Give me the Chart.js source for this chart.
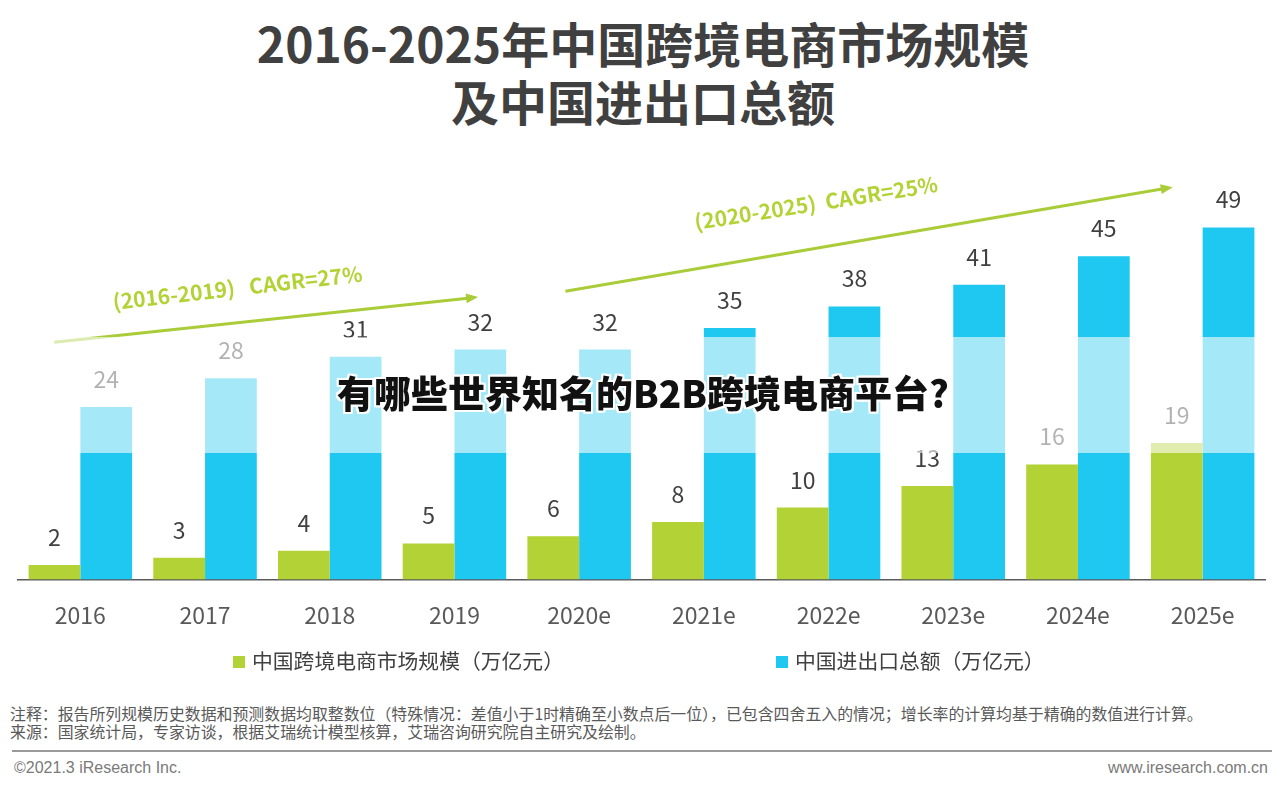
<!DOCTYPE html>
<html lang="zh-CN">
<head>
    <meta charset="UTF-8">
    <title>2016-2025年中国跨境电商市场规模及中国进出口总额</title>
    <script src="https://cdn.jsdelivr.net/npm/chart.js"></script>
    <style>
        body { margin: 0; width: 1280px; height: 791px; background: #fff; position: relative; overflow: hidden;
               font-family: "Noto Sans CJK SC", "Noto Sans", sans-serif; }
        .title { position: absolute; left: 0; width: 1286px; text-align: center; font-weight: 700;
                 font-size: 48px; color: #404040; line-height: 1; }
        #chartBox { position: absolute; left: 0; top: 0; width: 1280px; height: 662px; }
        #band { position: absolute; left: 0; top: 337px; width: 1280px; height: 116px; background: rgba(255,255,255,0.6); }
        #question { position: absolute; left: 0; width: 1286px; top: 372px; text-align: center; font-size: 37px;
                    font-weight: 900; color: #111; line-height: 1.1;
                    text-shadow: 2px 0 #fff, -2px 0 #fff, 0 2px #fff, 0 -2px #fff, 2px 2px #fff, -2px -2px #fff, 2px -2px #fff, -2px 2px #fff; }
        #legend { position: absolute; top: 647px; left: 0; width: 1280px; height: 26px; }
        .lg { position: absolute; top: 0; font-size: 20.8px; color: #404040; line-height: 26px; white-space: nowrap; }
        .lg i { display: inline-block; width: 12px; height: 12px; margin-right: 7px; vertical-align: 1px; }
        .note { position: absolute; left: 10px; font-size: 15.9px; color: #595959; white-space: nowrap; line-height: 1; }
        #rule { position: absolute; left: 12px; top: 750px; width: 1260px; height: 2px; background: #9a9a9a; }
        .foot { position: absolute; top: 759px; font-size: 16px; color: #7a7a7a; font-family: "Liberation Sans", Arial, sans-serif; }
    </style>
</head>
<body>
    <div class="title" style="top:18px">2016-2025年中国跨境电商市场规模</div>
    <div class="title" style="top:76px">及中国进出口总额</div>

    <div id="chartBox"><canvas id="barChart"></canvas></div>
    <div id="band"></div>
    <div id="question">有哪些世界知名的B2B跨境电商平台?</div>

    <div id="legend"></div>

    <div class="note" style="top:706px">注释：报告所列规模历史数据和预测数据均取整数位（特殊情况：差值小于1时精确至小数点后一位），已包含四舍五入的情况；增长率的计算均基于精确的数值进行计算。</div>
    <div class="note" style="top:724px">来源：国家统计局，专家访谈，根据艾瑞统计模型核算，艾瑞咨询研究院自主研究及绘制。</div>
    <div id="rule"></div>
    <div class="foot" style="left:14px">©2021.3 iResearch Inc.</div>
    <div class="foot" style="right:12px">www.iresearch.com.cn</div>

    <script>
        // categories and values (万亿元)
        var years = ['2016', '2017', '2018', '2019', '2020e', '2021e', '2022e', '2023e', '2024e', '2025e'];
        var ecommerce = [2, 3, 4, 5, 6, 8, 10, 13, 16, 19];
        var tradeTotal = [24, 28, 31, 32, 32, 35, 38, 41, 45, 49];
        var seriesNames = ['中国跨境电商市场规模（万亿元）', '中国进出口总额（万亿元）'];
        var seriesColors = ['#B2D235', '#1FC8F0'];

        // growth annotations: [startIndex, startValue, endIndex, endValue], text at [index, value, angle]
        var cagrNotes = [
            { text: '(2016-2019)   CAGR=27%', from: [-0.21, 33], to: [3.19, 39.3], at: [1.26, 40.6], angle: -6.5 },
            { text: '(2020-2025)  CAGR=25%', from: [3.89, 40.1], to: [8.76, 54.6], at: [5.9, 52.4], angle: -9 }
        ];

        // values on top of the bars
        var valueLabels = {
            id: 'valueLabels',
            afterDatasetsDraw: function (chart) {
                var ctx = chart.ctx;
                ctx.save();
                ctx.font = '23px "Noto Sans CJK SC", sans-serif';
                ctx.fillStyle = '#404040';
                ctx.textAlign = 'center';
                ctx.textBaseline = 'alphabetic';
                chart.data.datasets.forEach(function (ds, i) {
                    chart.getDatasetMeta(i).data.forEach(function (bar, j) {
                        ctx.fillText(ds.data[j], bar.x, bar.y - 19);
                    });
                });
                ctx.restore();
            }
        };

        // CAGR arrows
        var cagrArrows = {
            id: 'cagrArrows',
            afterDraw: function (chart) {
                var ctx = chart.ctx;
                var xs = chart.scales.x, ys = chart.scales.y;
                ctx.save();
                cagrNotes.forEach(function (n) {
                    var x1 = xs.getPixelForValue(n.from[0]), y1 = ys.getPixelForValue(n.from[1]);
                    var x2 = xs.getPixelForValue(n.to[0]), y2 = ys.getPixelForValue(n.to[1]);
                    var a = Math.atan2(y2 - y1, x2 - x1);
                    ctx.strokeStyle = '#A9CC38';
                    ctx.fillStyle = '#A9CC38';
                    ctx.lineWidth = 3;
                    ctx.beginPath();
                    ctx.moveTo(x1, y1);
                    ctx.lineTo(x2 - 8 * Math.cos(a), y2 - 8 * Math.sin(a));
                    ctx.stroke();
                    ctx.beginPath();
                    ctx.moveTo(x2, y2);
                    ctx.lineTo(x2 - 12 * Math.cos(a) + 5 * Math.sin(a), y2 - 12 * Math.sin(a) - 5 * Math.cos(a));
                    ctx.lineTo(x2 - 12 * Math.cos(a) - 5 * Math.sin(a), y2 - 12 * Math.sin(a) + 5 * Math.cos(a));
                    ctx.closePath();
                    ctx.fill();

                    var tx = xs.getPixelForValue(n.at[0]), ty = ys.getPixelForValue(n.at[1]);
                    ctx.save();
                    ctx.translate(tx, ty);
                    ctx.rotate(n.angle * Math.PI / 180);
                    ctx.font = '600 21px "Noto Sans CJK SC", sans-serif';
                    ctx.fillStyle = '#B2D235';
                    ctx.textAlign = 'center';
                    ctx.textBaseline = 'middle';
                    ctx.fillText(n.text, 0, 0);
                    ctx.restore();
                });
                ctx.restore();
            }
        };

        var ctx = document.getElementById('barChart').getContext('2d');
        var barChart = new Chart(ctx, {
            type: 'bar',
            data: {
                labels: years,
                datasets: [{
                    label: seriesNames[0],
                    data: ecommerce,
                    backgroundColor: seriesColors[0]
                }, {
                    label: seriesNames[1],
                    data: tradeTotal,
                    backgroundColor: seriesColors[1]
                }]
            },
            options: {
                responsive: true,
                maintainAspectRatio: false,
                animation: false,
                layout: { padding: { left: 18, right: 15, top: 134, bottom: 11 } },
                datasets: { bar: { categoryPercentage: 0.83, barPercentage: 1 } },
                plugins: {
                    legend: { display: false },
                    tooltip: { enabled: false }
                },
                scales: {
                    x: {
                        grid: { display: false, drawTicks: false },
                        border: { color: '#5a5a5a', width: 1.5 },
                        ticks: {
                            color: '#595959',
                            padding: 22,
                            font: { size: 23, family: '"Noto Sans CJK SC", sans-serif' }
                        }
                    },
                    y: {
                        display: false,
                        min: 0,
                        max: 62
                    }
                }
            },
            plugins: [valueLabels, cagrArrows]
        });

        // legend built from the series names and colours
        var legendBox = document.getElementById('legend');
        var legendX = [233, 776];
        seriesNames.forEach(function (name, i) {
            var item = document.createElement('div');
            item.className = 'lg';
            item.style.left = legendX[i] + 'px';
            item.innerHTML = '<i style="background:' + seriesColors[i] + '"></i>' + name;
            legendBox.appendChild(item);
        });
    </script>
</body>
</html>
